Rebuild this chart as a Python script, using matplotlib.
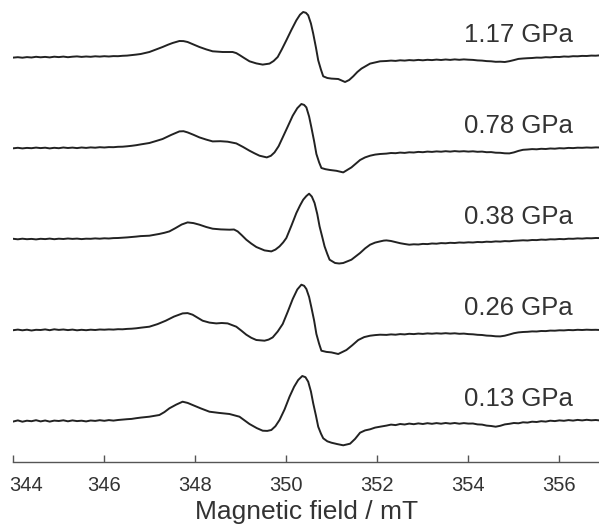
import matplotlib.pyplot as plt
from matplotlib.transforms import ScaledTranslation

plt.rcParams['font.family'] = ['Liberation Sans', 'DejaVu Sans']

# Presiones de cada espectro (de abajo hacia arriba)
presiones = ["0.13 GPa", "0.26 GPa", "0.38 GPa", "0.78 GPa", "1.17 GPa"]

# Campo de la línea base a la izquierda y a la derecha de la señal (mT)
campo_izq = [344.0, 344.1, 344.2, 344.3, 344.4, 344.5, 344.6, 344.7, 344.8, 344.9,
             345.0, 345.1, 345.2, 345.3, 345.4, 345.5, 345.6, 345.7, 345.8, 345.9,
             346.0, 346.1, 346.2, 346.3, 346.4, 346.5, 346.6, 346.7, 346.8]
campo_der = [352.2, 352.3, 352.4, 352.5, 352.6, 352.7, 352.8, 352.9, 353.0, 353.1,
             353.2, 353.3, 353.4, 353.5, 353.6, 353.7, 353.8, 353.9, 354.0, 354.1,
             354.2, 354.3, 354.4, 354.5, 354.6, 354.7, 354.8, 354.9, 355.0, 355.1,
             355.2, 355.3, 355.4, 355.5, 355.6, 355.7, 355.8, 355.9, 356.0, 356.1,
             356.2, 356.3, 356.4, 356.5, 356.6, 356.7, 356.8, 356.9]

# ---- 0.13 GPa ----
izq_013 = [-0.5, 0.6, -0.7, 0.3, -0.2, 0.8, -0.4, 0.5, -0.6, 0.4, 0.0, 0.7, -0.3, 0.6, -0.1,
           0.3, -0.4, 0.5, 0.1, 0.8, 0.2, 0.9, 0.4, 1.0, 1.4, 1.8, 2.1, 2.8, 3.4]
campo_013 = [346.99, 347.21, 347.32, 347.43, 347.58, 347.72, 347.83, 347.94, 348.12, 348.31,
             348.52, 348.75, 348.97, 349.19, 349.35, 349.48, 349.58, 349.67, 349.76, 349.85,
             349.96, 350.07, 350.17, 350.26, 350.35, 350.42, 350.48, 350.54, 350.59, 350.65,
             350.70, 350.76, 350.81, 350.90, 350.99, 351.12, 351.25, 351.40, 351.51, 351.62,
             351.73, 351.84, 351.95, 352.06]
senal_013 = [4.3, 6.0, 8.9, 12.7, 16.4, 19.3, 18.1, 16.0, 12.6, 9.3,
             8.1, 7.0, 4.3, -3.0, -7.1, -9.7, -9.9, -9.0, -5.2, 1.0,
             11.5, 24.3, 34.2, 41.0, 45.0, 43.8, 39.3, 29.5, 17.7, 5.4,
             -5.7, -12.6, -17.3, -20.3, -21.7, -23.1, -24.3, -22.7, -17.9, -11.7,
             -9.4, -8.3, -6.6, -5.7]
der_013 = [-4.6, -3.6, -4.1, -3.0, -3.5, -2.6, -3.2, -2.4, -3.0, -2.2, -2.8, -2.1, -2.7, -2.0,
           -2.6, -2.0, -2.7, -2.1, -2.6, -2.5, -3.4, -3.6, -4.6, -5.0, -5.7, -4.8, -3.4, -2.8,
           -2.0, -2.3, -1.3, -1.6, -0.7, -1.0, -0.2, -0.6, 0.3, -0.1, 0.6, 0.2, 0.9, 0.4,
           1.1, 0.6, 1.2, 0.7, 1.0, 0.5]

# ---- 0.26 GPa ----
izq_026 = [-0.2, 0.4, -0.3, 0.3, -0.5, 0.2, 0.0, 0.6, -0.2, 0.7, 0.1, 0.5, -0.1, 0.4, -0.3,
           0.2, -0.2, 0.3, 0.0, 0.5, 0.3, 0.6, 0.4, 0.8, 0.7, 1.1, 1.3, 1.7, 2.3]
campo_026 = [346.99, 347.17, 347.35, 347.53, 347.72, 347.83, 347.94, 348.05, 348.16, 348.31,
             348.46, 348.58, 348.71, 348.90, 349.01, 349.12, 349.23, 349.34, 349.52, 349.61,
             349.70, 349.81, 349.92, 350.03, 350.14, 350.24, 350.33, 350.39, 350.44, 350.50,
             350.55, 350.61, 350.66, 350.72, 350.77, 350.88, 350.99, 351.14, 351.32, 351.45,
             351.58, 351.71, 351.84, 351.95, 352.06]
senal_026 = [3.3, 5.9, 9.3, 13.4, 16.6, 16.9, 15.3, 12.3, 9.3, 7.4,
             6.6, 7.0, 6.6, 3.3, -0.6, -4.7, -7.8, -10.0, -10.7, -9.6,
             -7.4, -1.5, 6.0, 18.2, 31.0, 40.5, 45.3, 44.2, 41.0, 33.0,
             22.6, 9.5, -4.0, -13.8, -20.7, -21.9, -22.4, -24.0, -20.0, -15.2,
             -10.0, -7.1, -5.7, -5.1, -4.7]
der_026 = [-4.9, -4.4, -4.7, -4.1, -4.4, -3.8, -4.1, -3.6, -3.9, -3.4, -3.7, -3.3, -3.6, -3.2,
           -3.6, -3.3, -3.8, -3.6, -4.1, -4.3, -4.8, -5.0, -5.6, -5.8, -6.3, -6.4, -5.7, -4.5,
           -3.2, -2.4, -2.0, -1.8, -1.4, -1.5, -1.0, -1.1, -0.6, -0.7, -0.3, -0.4, 0.0, -0.2,
           0.2, 0.0, 0.3, 0.1, 0.2, 0.0]

# ---- 0.38 GPa ----
izq_038 = [0.2, -0.3, 0.3, -0.2, 0.1, -0.4, 0.2, -0.1, 0.4, -0.2, 0.3, 0.0, 0.5, 0.1, 0.4,
           -0.1, 0.3, 0.2, 0.6, 0.3, 0.7, 0.5, 0.9, 1.0, 1.3, 1.6, 2.0, 2.4, 2.9]
campo_038 = [346.99, 347.10, 347.20, 347.32, 347.43, 347.56, 347.70, 347.83, 347.96, 348.09,
             348.24, 348.38, 348.56, 348.75, 348.85, 348.93, 349.02, 349.12, 349.23, 349.34,
             349.52, 349.67, 349.76, 349.85, 349.93, 350.00, 350.11, 350.22, 350.30, 350.37,
             350.44, 350.50, 350.56, 350.62, 350.68, 350.73, 350.79, 350.84, 350.90, 350.95,
             351.07, 351.16, 351.25, 351.43, 351.62, 351.73, 351.84, 351.95, 352.06, 352.14]
senal_038 = [3.3, 4.2, 5.0, 6.2, 7.6, 10.8, 14.5, 16.6, 15.9, 14.3,
             12.0, 10.3, 9.6, 9.3, 9.5, 7.6, 3.8, -0.7, -4.6, -8.0,
             -11.4, -12.4, -10.6, -7.4, -3.4, 1.0, 13.2, 26.0, 33.5, 39.3,
             43.0, 45.3, 42.4, 36.0, 24.8, 12.6, 1.8, -7.4, -15.0, -20.7,
             -24.0, -24.5, -24.0, -20.7, -14.0, -9.4, -5.7, -3.6, -2.4, -1.6]
der_038 = [-1.4, -2.0, -3.1, -4.2, -5.0, -5.7, -5.3, -5.5, -4.9, -5.1, -4.5, -4.7, -4.1, -4.3,
           -3.8, -4.0, -3.5, -3.7, -3.3, -3.5, -3.0, -3.2, -2.7, -2.9, -2.4, -2.6, -2.1, -2.3,
           -1.8, -1.6, -1.3, -1.5, -1.0, -1.1, -0.6, -0.8, -0.3, -0.4, 0.0, -0.2, 0.3, 0.2,
           0.6, 0.4, 0.8, 0.7, 1.0, 0.9]

# ---- 0.78 GPa ----
izq_078 = [-0.3, 0.2, -0.4, 0.1, -0.2, 0.4, -0.1, 0.3, -0.4, 0.2, -0.2, 0.5, 0.0, 0.4, -0.1,
           0.5, 0.1, 0.6, 0.3, 0.8, 0.5, 0.9, 0.8, 1.2, 1.3, 1.7, 2.2, 2.8, 3.6]
campo_078 = [346.99, 347.13, 347.28, 347.47, 347.65, 347.74, 347.83, 347.96, 348.09, 348.24,
             348.38, 348.55, 348.71, 348.90, 349.05, 349.19, 349.30, 349.41, 349.57, 349.66,
             349.74, 349.83, 349.92, 350.03, 350.14, 350.24, 350.33, 350.39, 350.44, 350.50,
             350.55, 350.61, 350.66, 350.72, 350.77, 350.86, 350.96, 351.10, 351.25, 351.43,
             351.62, 351.73, 351.84, 351.95, 352.06]
senal_078 = [5.0, 6.9, 9.0, 13.1, 16.6, 16.8, 15.6, 13.2, 10.6, 8.4,
             6.6, 6.8, 6.3, 4.6, 1.0, -2.7, -5.3, -7.7, -9.4, -7.8,
             -4.4, 1.8, 10.6, 21.4, 32.3, 39.8, 44.0, 43.1, 40.6, 31.5,
             20.6, 6.8, -6.0, -14.4, -20.0, -21.2, -22.0, -22.8, -24.4, -19.4,
             -12.0, -9.4, -7.7, -6.6, -6.0]
der_078 = [-5.6, -5.0, -5.2, -4.6, -4.9, -4.3, -4.5, -3.9, -4.2, -3.6, -3.9, -3.4, -3.7, -3.2,
           -3.6, -3.1, -3.5, -3.2, -3.6, -3.3, -3.8, -3.6, -4.2, -4.1, -4.7, -4.8, -5.3, -5.4,
           -4.4, -2.9, -1.8, -1.5, -1.1, -1.3, -0.8, -1.0, -0.5, -0.7, -0.2, -0.4, 0.1, -0.1,
           0.3, 0.2, 0.5, 0.3, 0.6, 0.5]

# ---- 1.17 GPa ----
izq_117 = [-0.6, -0.2, -0.7, -0.1, -0.5, 0.2, -0.3, 0.1, -0.4, 0.3, -0.1, 0.4, -0.2, 0.3, 0.6,
           0.1, 0.5, 0.2, 0.7, 0.4, 0.8, 0.5, 0.9, 0.8, 1.2, 1.4, 1.9, 2.4, 3.0]
campo_117 = [346.99, 347.13, 347.28, 347.40, 347.50, 347.65, 347.74, 347.83, 347.96, 348.09,
             348.24, 348.38, 348.60, 348.82, 348.90, 348.97, 349.08, 349.19, 349.34, 349.48,
             349.63, 349.72, 349.81, 349.90, 350.00, 350.11, 350.22, 350.30, 350.37, 350.43,
             350.48, 350.54, 350.59, 350.65, 350.70, 350.76, 350.81, 350.90, 350.99, 351.14,
             351.29, 351.38, 351.47, 351.56, 351.65, 351.84, 352.06]
senal_117 = [5.0, 7.4, 10.0, 12.3, 14.0, 16.0, 15.9, 15.0, 12.5, 10.0,
             7.6, 5.7, 5.0, 5.0, 3.9, 2.0, -1.2, -4.3, -6.4, -7.6,
             -6.6, -4.0, 0.0, 7.6, 16.7, 27.0, 36.7, 42.3, 45.0, 44.2,
             41.7, 33.5, 23.4, 9.5, -3.3, -12.6, -19.3, -21.0, -21.6, -22.0,
             -25.0, -23.0, -19.3, -15.0, -11.6, -6.6, -4.3]
der_117 = [-4.0, -3.6, -3.9, -3.3, -3.6, -3.1, -3.4, -2.9, -3.3, -2.8, -3.1, -2.6, -3.0, -2.5,
           -2.9, -2.4, -2.8, -2.4, -2.7, -2.9, -3.4, -3.6, -4.1, -4.3, -4.8, -4.7, -5.0, -4.2,
           -3.1, -1.9, -1.5, -1.2, -1.0, -0.6, -0.7, -0.2, -0.4, 0.1, 0.0, 0.5, 0.3, 0.8,
           0.7, 1.1, 1.0, 1.4, 1.3, 1.7]

espectros = [
    (izq_013, campo_013, senal_013, der_013),
    (izq_026, campo_026, senal_026, der_026),
    (izq_038, campo_038, senal_038, der_038),
    (izq_078, campo_078, senal_078, der_078),
    (izq_117, campo_117, senal_117, der_117),
]

# Figura: un solo eje, espectros desplazados verticalmente
fig = plt.figure(figsize=(5.99, 5.24), dpi=100)
ax = fig.add_axes([13.3 / 599, 62 / 524, 1 - 13.3 / 599, 462 / 524])

separacion = 91
base = 41
for i, (izq, campo, senal, der) in enumerate(espectros):
    x = campo_izq + campo + campo_der
    y = [v + base + i * separacion for v in izq + senal + der]
    ax.plot(x, y, color="#222222", linewidth=1.4)
    ax.text(356.29, base + i * separacion + 22, presiones[i], ha="right", va="center",
            fontsize=18.5, color="#333333")

ax.set_xlim(344, 356.87)
ax.set_ylim(0, 462)
ax.set_xticks([344, 346, 348, 350, 352, 354, 356])
ax.set_yticks([])
for lado in ["top", "right", "left"]:
    ax.spines[lado].set_visible(False)
ax.spines["bottom"].set_color("#555555")
ax.spines["bottom"].set_linewidth(1.0)
ax.tick_params(axis="x", direction="in", length=5, width=1.0, color="#555555",
               labelsize=14.5, labelcolor="#333333", pad=10)
ax.set_xlabel("Magnetic field / mT", fontsize=19, color="#333333", labelpad=4)

# la primera etiqueta se corre a la derecha para que no quede cortada
etiquetas = ax.get_xticklabels()
etiquetas[0].set_ha("left")
etiquetas[0].set_transform(etiquetas[0].get_transform()
                           + ScaledTranslation(-4 / 100, 0, fig.dpi_scale_trans))
ax.patch.set_alpha(0)

fig.savefig("out.png", dpi=100)
